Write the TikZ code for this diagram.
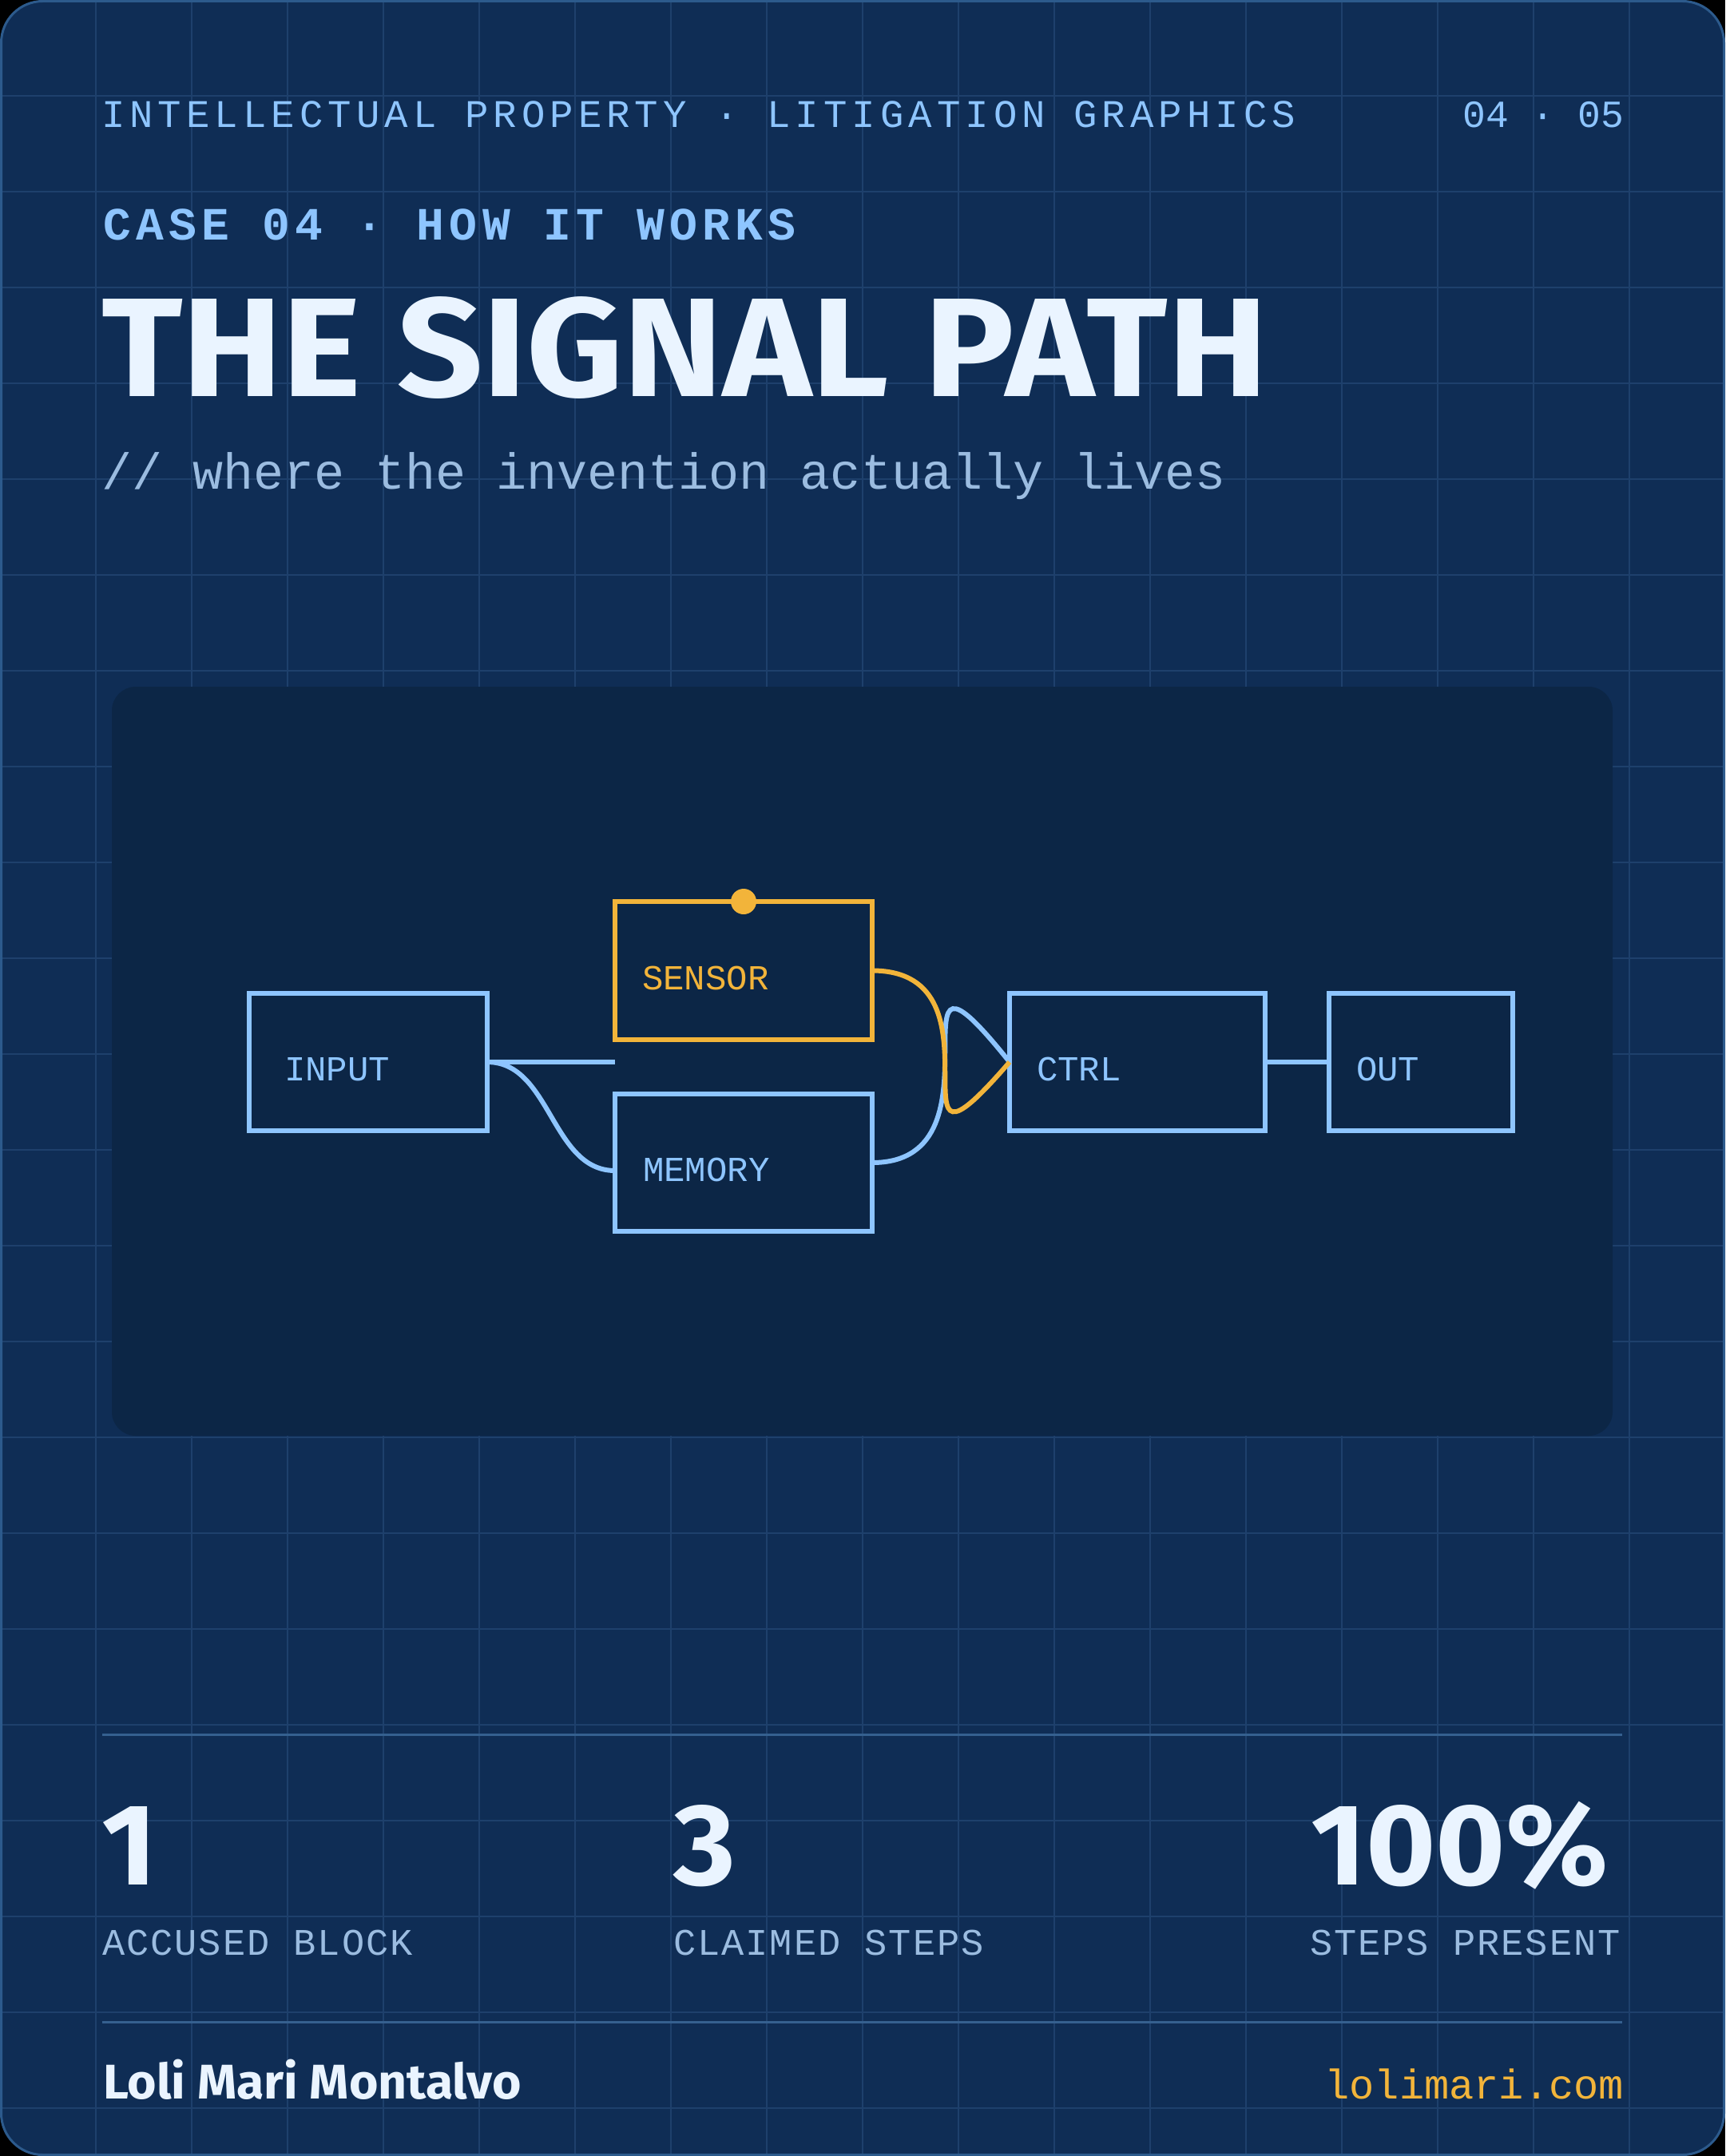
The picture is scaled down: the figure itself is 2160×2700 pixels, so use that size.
\documentclass[tikz,border=0pt]{standalone}
\usepackage{fontspec}
\usepackage{graphicx}
\setmainfont{Liberation Sans}
\newfontfamily\monoplain{Liberation Mono}
\newfontfamily\monohead{Liberation Mono}[LetterSpace=12.4]
\newfontfamily\monocase{Liberation Mono}[LetterSpace=11.0]
\newfontfamily\monolab{Liberation Mono}[LetterSpace=4.3]
\newfontfamily\display{Fira Sans}
\definecolor{cardbg}{HTML}{0F2D55}
\definecolor{gridc}{HTML}{1E406C}
\definecolor{cardedge}{HTML}{2C5A8C}
\definecolor{panel}{HTML}{0C2646}
\definecolor{sky}{HTML}{8EC5FF}
\definecolor{ink}{HTML}{EAF4FF}
\definecolor{muted}{HTML}{9BBCE0}
\definecolor{amber}{HTML}{F2B43A}
\definecolor{rulec}{HTML}{35608F}
\begin{document}
\begin{tikzpicture}[x=1pt,y=-1pt,
  txt/.style={inner sep=0pt, outer sep=0pt, anchor=base west},
  blk/.style={rectangle, draw=sky, line width=6.5pt, inner sep=0pt, outer sep=0pt, minimum height=172pt},
  wire/.style={draw=sky, line width=6pt},
  hotwire/.style={draw=amber, line width=6pt},
  boxlabel/.style={txt, text=sky, font=\monoplain\fontsize{44pt}{50pt}\selectfont},
  bignum/.style={txt, text=ink, font=\display\bfseries\fontsize{145pt}{160pt}\selectfont},
  statlabel/.style={txt, text=muted, font=\monolab\fontsize{47pt}{54pt}\selectfont},
  sep/.style={draw=rulec, line width=3pt}]
% background and card
\fill[black] (0,0) rectangle (2160,2700);
\useasboundingbox (0,0) rectangle (2160,2700);
\fill[cardbg, rounded corners=52pt] (1.5,1.5) rectangle (2158.5,2698.5);
\begin{scope}
  \clip[rounded corners=52pt] (1.5,1.5) rectangle (2158.5,2698.5);
  \foreach \i in {1,...,17} \draw[gridc, line width=2pt] (120*\i,0) -- (120*\i,2700);
  \foreach \j in {1,...,22} \draw[gridc, line width=2pt] (0,120*\j) -- (2160,120*\j);
\end{scope}
\draw[cardedge, line width=3pt, rounded corners=52pt] (1.5,1.5) rectangle (2158.5,2698.5);

% header texts
\node[txt, text=sky, font=\monohead\fontsize{49pt}{58pt}\selectfont] (kicker) at (127,160) {INTELLECTUAL PROPERTY · LITIGATION GRAPHICS};
\node[txt, anchor=base east, text=sky, font=\monoplain\fontsize{48pt}{58pt}\selectfont] (pageno) at (2033,160) {04 · 05};
\node[txt, text=sky, font=\monocase\bfseries\fontsize{58pt}{66pt}\selectfont] (case) at (129,300) {CASE 04 · HOW IT WORKS};
\node[txt, text=ink, font=\display\bfseries\fontsize{176pt}{190pt}\selectfont] (title) at (127,496) {\scalebox{1.068}[1]{THE SIGNAL PATH}};
\node[txt, text=muted, font=\monoplain\fontsize{63.4pt}{70pt}\selectfont] (subtitle) at (127,612) {// where the invention actually lives};

% diagram panel
\fill[panel, rounded corners=30pt] (140,860) rectangle (2019,1798);

% blocks
\node[blk, minimum width=298pt] (input) at (461,1330) {};
\node[blk, draw=amber, minimum width=322pt, minimum height=173pt] (sensor) at (931,1215.5) {};
\node[blk, minimum width=322pt] (memory) at (931,1456) {};
\node[blk, minimum width=320pt] (ctrl) at (1424,1330) {};
\node[blk, minimum width=230pt] (out) at (1779,1330) {};

\node[boxlabel] (inputlbl) at (356,1353) {INPUT};
\node[boxlabel, text=amber] (sensorlbl) at (804,1239) {SENSOR};
\node[boxlabel] (memorylbl) at (805,1479) {MEMORY};
\node[boxlabel] (ctrllbl) at (1298,1353) {CTRL};
\node[boxlabel] (outlbl) at (1698,1353) {OUT};

% connectors
\coordinate (stub) at (sensor.west |- input.east);
\draw[wire] (input.east) -- (stub);
\draw[wire] (input.east) .. controls +(80,0) and +(-80,0) .. ([yshift=-10pt]memory.west);
\draw[wire] (memory.east) .. controls +(178,0) and +(-164,-205) .. (ctrl.west);
\draw[hotwire] (sensor.east) .. controls +(178,0) and +(-164,190) .. (ctrl.west);
\draw[wire] (ctrl.east) -- (out.west);
\fill[amber] (sensor.north) circle[radius=16pt];

% stats
\draw[sep] (128,2172) coordinate (s1a) -- (2031,2172) coordinate (s1b);
\node[bignum] (n1) at (127,2360) {\scalebox{1.03}[1]{1}};
\node[bignum] (n2) at (843,2360) {\scalebox{1.03}[1]{3}};
\node[bignum] (n3) at (1641,2360) {\scalebox{1.03}[1]{100\%}};
\node[statlabel] (l1) at (128,2448) {ACCUSED BLOCK};
\node[statlabel] (l2) at (843,2448) {CLAIMED STEPS};
\node[statlabel] (l3) at (1640,2448) {STEPS PRESENT};
\draw[sep] (128,2532) coordinate (s2a) -- (2031,2532) coordinate (s2b);

% footer
\node[txt, text=ink, font=\display\bfseries\fontsize{61pt}{66pt}\selectfont] (author) at (129,2628) {\scalebox{1.025}[1]{Loli Mari Montalvo}};
\node[txt, anchor=base east, text=amber, font=\monoplain\fontsize{52pt}{58pt}\selectfont] (site) at (2033,2628) {lolimari.com};
\end{tikzpicture}
\end{document}
